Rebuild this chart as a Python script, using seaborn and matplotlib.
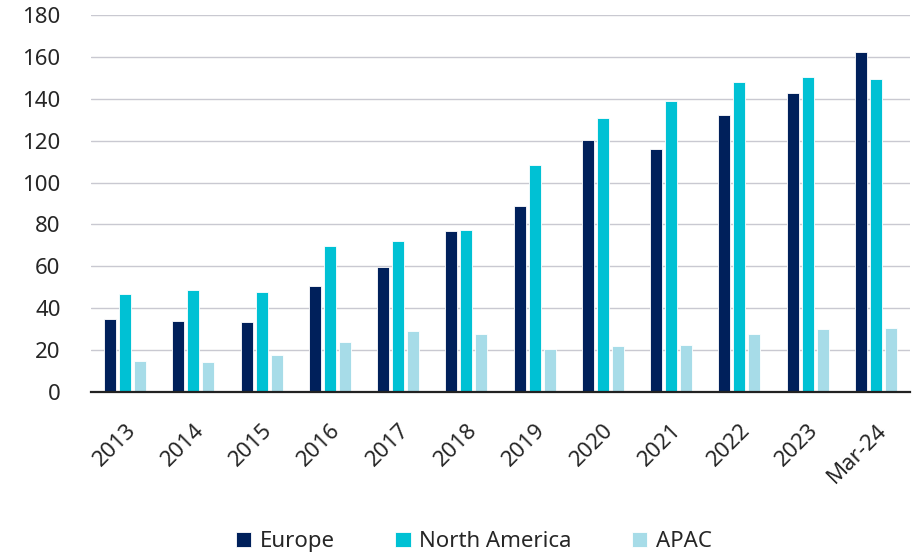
import matplotlib
matplotlib.use("Agg")
import matplotlib.pyplot as plt
import seaborn as sns
import pandas as pd

periods = ["2013", "2014", "2015", "2016", "2017", "2018", "2019",
           "2020", "2021", "2022", "2023", "Mar-24"]
europe = [35.0, 33.7, 33.3, 50.5, 59.5, 76.7, 89.0, 120.2, 116.0, 132.3, 142.8, 162.5]
north_america = [46.9, 48.5, 47.7, 69.9, 71.9, 77.2, 108.5, 130.7, 138.9, 148.0, 150.2, 149.3]
apac = [15.0, 14.2, 17.5, 23.7, 29.3, 27.5, 20.5, 21.8, 22.3, 27.5, 30.2, 30.4]
regions = ["Europe", "North America", "APAC"]
colors = ["#00205B", "#00C1D4", "#A7DCE8"]

df = pd.DataFrame({
    "period": periods * 3,
    "region": [regions[0]] * 12 + [regions[1]] * 12 + [regions[2]] * 12,
    "value": europe + north_america + apac,
})

sns.set_theme(style="white")
plt.rcParams["font.family"] = ["Noto Sans", "DejaVu Sans"]
text_color = "#262626"
fs = 16

fig, ax = plt.subplots(figsize=(9.2, 5.53), dpi=100)
fig.subplots_adjust(left=0.099, right=0.989, top=0.973, bottom=0.291)

sns.barplot(data=df, x="period", y="value", hue="region", order=periods,
            hue_order=regions, palette=colors, saturation=1, width=0.66, gap=0.2,
            edgecolor="white", linewidth=0.6, ax=ax, legend=True)

ax.set_ylim(0, 180)
ax.set_yticks(range(0, 181, 20))
ax.grid(axis="y", color="#C9C9D1", linewidth=1.0)
ax.set_axisbelow(True)
for side in ["left", "right", "top"]:
    ax.spines[side].set_visible(False)
ax.spines["bottom"].set_color("#222222")
ax.spines["bottom"].set_linewidth(1.6)
ax.set_xlabel("")
ax.set_ylabel("")
ax.tick_params(axis="y", length=0, pad=22, labelsize=fs, labelcolor=text_color)
ax.tick_params(axis="x", length=0, pad=20, labelsize=fs, labelcolor=text_color)
for lbl in ax.get_xticklabels():
    lbl.set_rotation(45)
    lbl.set_ha("right")
    lbl.set_rotation_mode("anchor")

handles, labels = ax.get_legend_handles_labels()
ax.get_legend().remove()
fig.legend(handles, labels, loc="lower center", bbox_to_anchor=(0.515, -0.035),
           ncol=3, frameon=False, fontsize=fs, handlelength=0.7,
           handleheight=0.7, handletextpad=0.4, columnspacing=2.7,
           labelcolor=text_color)

fig.savefig("out.png", dpi=100)
